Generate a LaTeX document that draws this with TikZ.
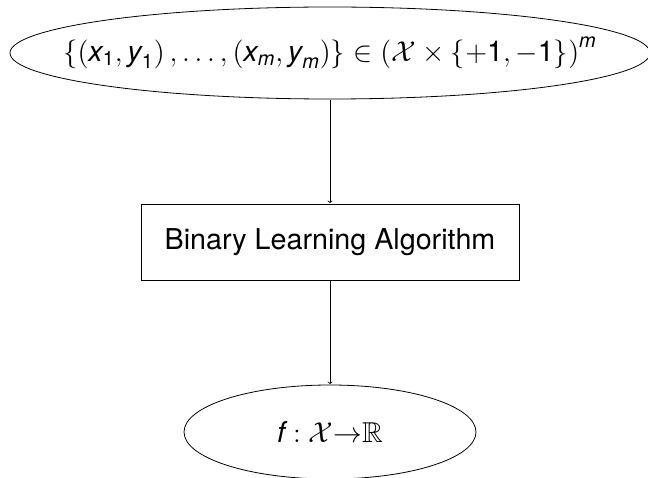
\documentclass[tikz,border=0pt]{standalone}
\usepackage{amsmath}
\usepackage{amssymb}
\usepackage{fontspec}
\setmainfont{TeX Gyre Heros}
\setsansfont{TeX Gyre Heros}
\usetikzlibrary{shapes.geometric}
\newcommand\sx{\textit{x}}
\newcommand\sy{\textit{y}}
\newcommand\sm{\textit{m}}
\begin{document}
\begin{tikzpicture}[x=0.5bp,y=0.5bp,scale=2,transform shape,
  every node/.style={font=\sffamily\fontsize{14.4}{17}\selectfont, line width=0.8bp},
  ell/.style={draw, ellipse, inner sep=0pt},
  algbox/.style={draw, rectangle, inner sep=0pt},
  conn/.style={->, line width=0.8bp}]
\useasboundingbox (0,0) rectangle (648,477);
\node[ell, minimum width=320bp, minimum height=46bp,
  label={center:$\{\mathsf{(}\sx_{\mathsf{1}},\sy_{\mathsf{1}}\mathsf{)}\,,\ldots,\mathsf{(}\sx_{\sm},\sy_{\sm}\mathsf{)}\}\in\mathsf{(}\mathcal{X}\times\{+\mathsf{1},-\mathsf{1}\}\mathsf{)}^{\sm}$}] (data) at (330,424) {};
\node[algbox, minimum width=189bp, minimum height=38bp] (alg) at (330,235)
  {Binary Learning Algorithm};
\node[ell, minimum width=146bp, minimum height=47bp,
  label={center:$\textit{f}:\mathcal{X}{\rightarrow}\mathbb{R}$}] (out) at (330,45) {};
\draw[conn] (data) -- (alg);
\draw[conn] (alg) -- (out);
\end{tikzpicture}
\end{document}
